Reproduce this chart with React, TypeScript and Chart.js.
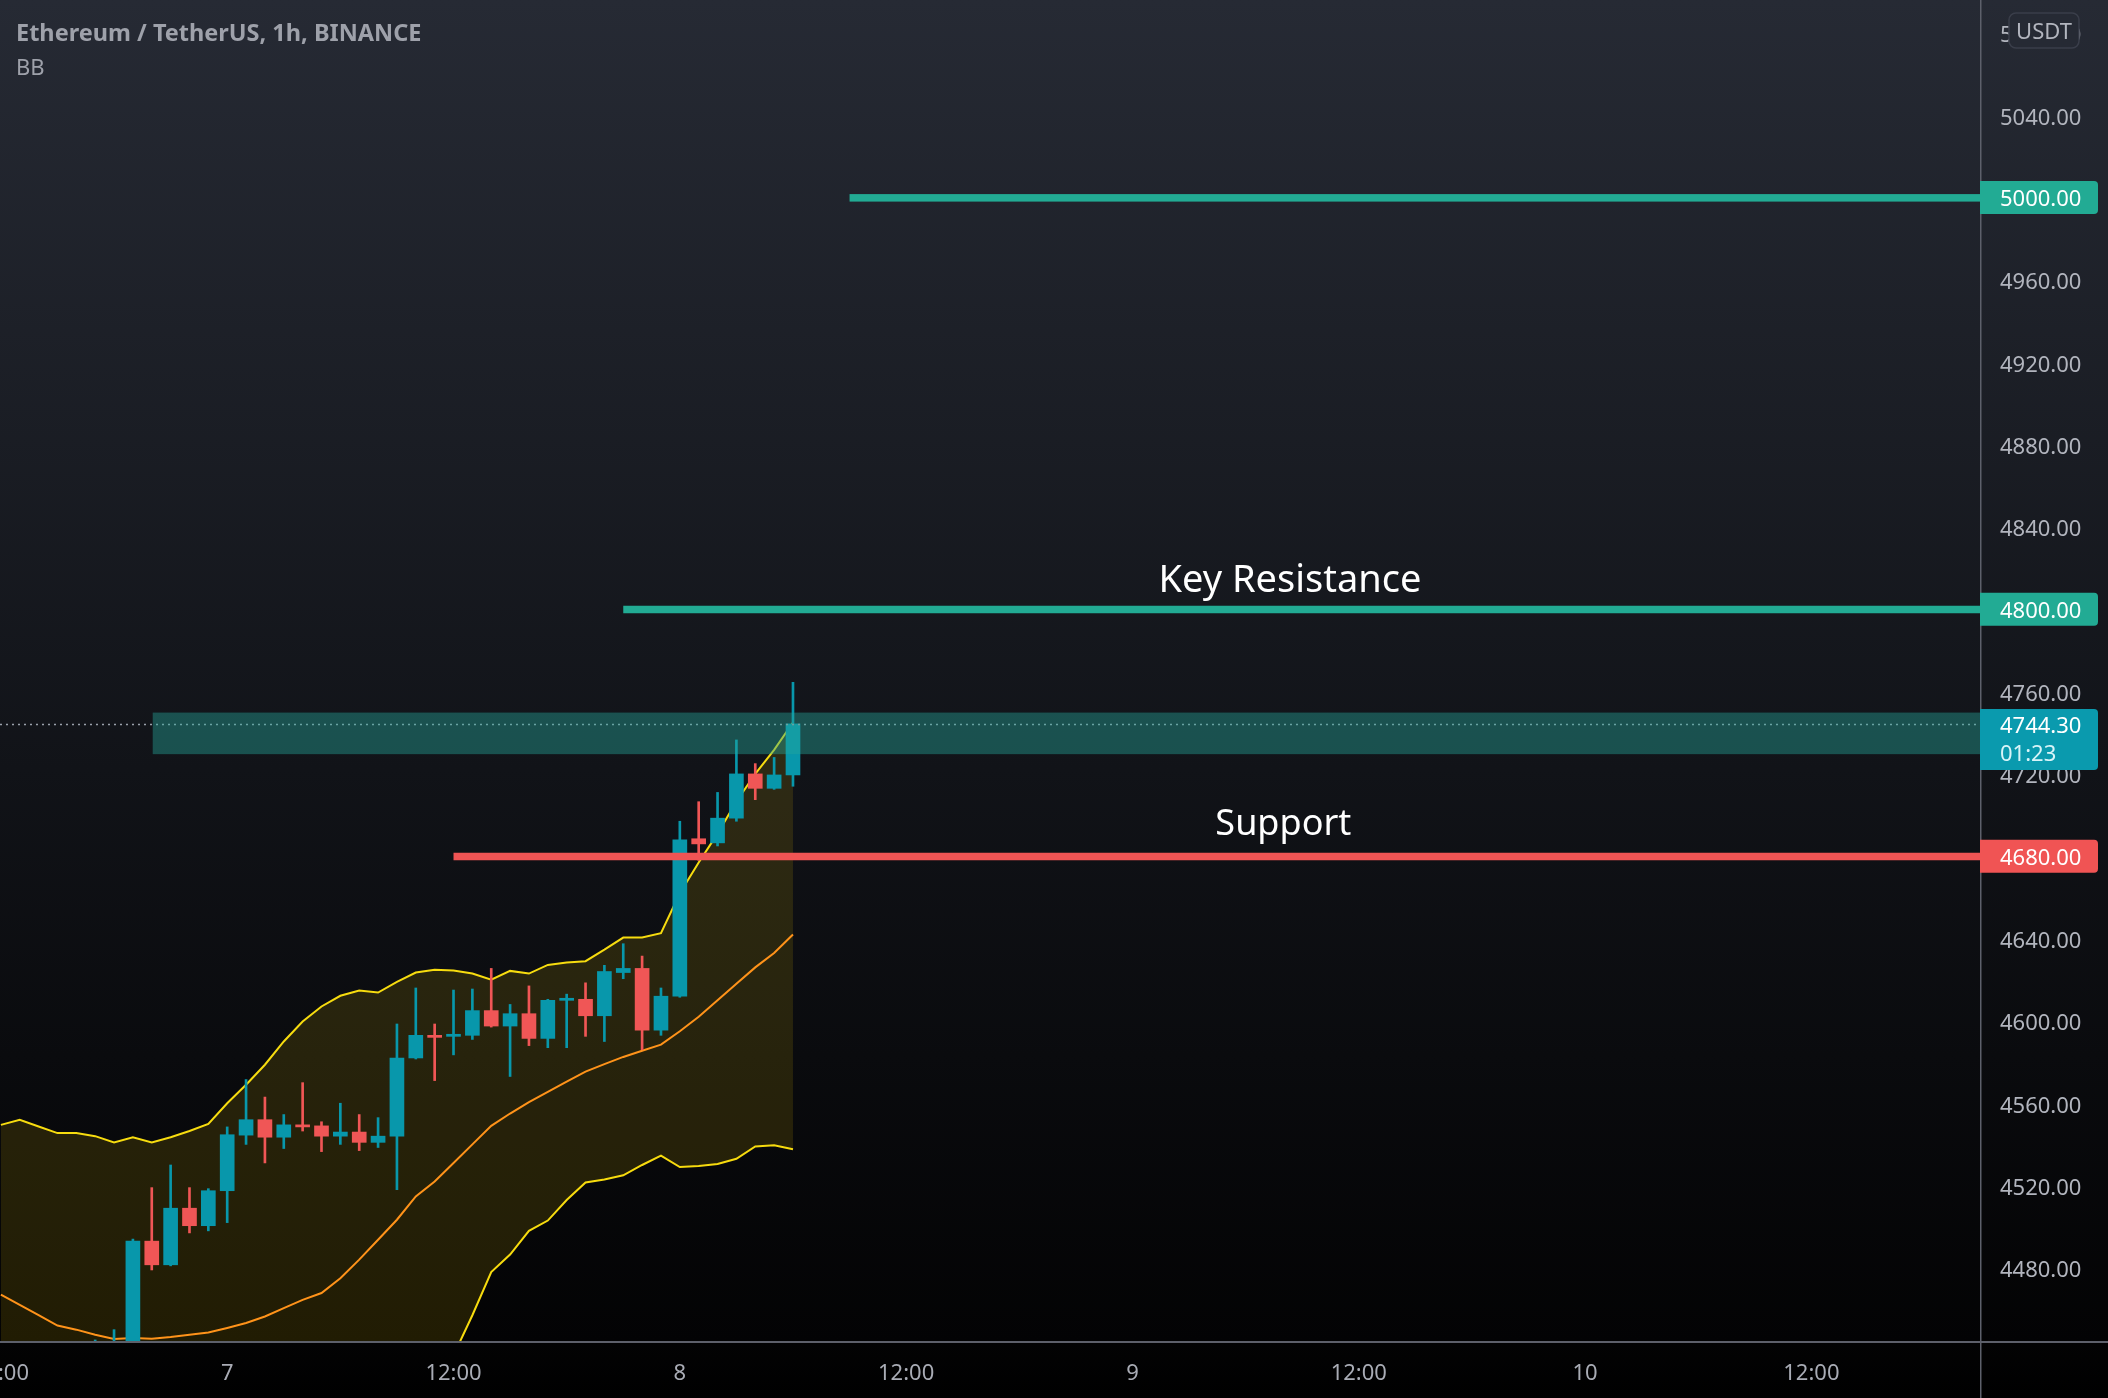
import React, { useEffect, useRef } from 'react';
import { Chart, registerables } from 'chart.js';

Chart.register(...registerables);

// hours relative to 7th 00:00 (1h candles, 6th 12:00 -> 8th 06:00)
const hours = [-12, -11, -10, -9, -8, -7, -6, -5, -4, -3, -2, -1, 0, 1, 2, 3, 4, 5, 6, 7, 8, 9, 10, 11, 12, 13, 14, 15, 16, 17, 18, 19, 20, 21, 22, 23, 24, 25, 26, 27, 28, 29, 30];
const opens = [4432, 4425, 4418, 4412, 4420, 4416, 4430, 4436, 4493, 4481.5, 4509, 4500.5, 4517.5, 4544.5, 4552, 4543.5, 4549.5, 4549, 4544, 4546, 4541, 4544, 4582, 4593, 4592.5, 4593, 4605, 4597.5, 4603.5, 4591.5, 4610, 4610.5, 4602.5, 4623.5, 4625.5, 4595.5, 4612, 4688.5, 4686.5, 4698.5, 4720, 4713, 4719.5];
const highs = [4440, 4436, 4428, 4430, 4432, 4445, 4450, 4494, 4519, 4530, 4519, 4518.5, 4548.5, 4571.5, 4563, 4554.5, 4570, 4551, 4560, 4554.5, 4553, 4598.5, 4616, 4598.5, 4615, 4615.5, 4625.5, 4608, 4617, 4610.5, 4613, 4618.5, 4627, 4637.5, 4631.5, 4616, 4697, 4706.5, 4711, 4736.5, 4725, 4728, 4764.5];
const lows = [4418, 4410, 4402, 4405, 4408, 4412, 4425, 4430, 4479, 4481, 4497, 4498, 4502, 4540, 4531, 4538, 4546.5, 4536.5, 4540, 4537, 4538.5, 4518, 4581.5, 4571, 4583.5, 4591, 4597, 4573, 4588, 4587, 4587, 4592.5, 4590, 4620.5, 4586, 4593, 4611.5, 4678, 4685, 4697, 4707.5, 4712.5, 4714];
const closes = [4425, 4418, 4412, 4420, 4416, 4430, 4436, 4493, 4481.5, 4509, 4500.5, 4517.5, 4544.7, 4552, 4543.5, 4549.5, 4548.5, 4544, 4546, 4541, 4544, 4582, 4593, 4592, 4593.5, 4605, 4597.5, 4603.5, 4591.5, 4610, 4611, 4602.5, 4624, 4625.5, 4595.5, 4612, 4688, 4686, 4698.5, 4720, 4713, 4719.5, 4744.3];

const bbUpper = [4549.5, 4552, 4548.7, 4545.5, 4545.5, 4544, 4541, 4543.5, 4541, 4543.5, 4546.5, 4550, 4560, 4569, 4578.7, 4590, 4599.7, 4607, 4612.2, 4614.8, 4613.8, 4619, 4623.5, 4624.8, 4624.5, 4623, 4620, 4624.3, 4623, 4627.2, 4628.4, 4629, 4634.6, 4640.5, 4640.5, 4642.6, 4662, 4677, 4691, 4706.6, 4720, 4731.7, 4745];
const bbBasis = [4467, 4462, 4457, 4452, 4450, 4447.5, 4445.5, 4446, 4445.6, 4446.4, 4447.5, 4448.6, 4450.8, 4453.2, 4456.4, 4460.5, 4464.5, 4467.8, 4475, 4484, 4493.7, 4503.4, 4514.7, 4522, 4531, 4540, 4549, 4555, 4560.5, 4565.5, 4570.5, 4575.4, 4579, 4582.5, 4585.5, 4588.5, 4595, 4602, 4610, 4618, 4626, 4633, 4642];
const bbLower = [4385, 4372, 4365, 4358, 4355, 4351, 4350, 4348.5, 4350, 4349.5, 4348.7, 4347, 4341.6, 4337, 4334, 4331, 4329, 4328.6, 4338, 4353, 4373.6, 4387.8, 4406, 4421, 4437.5, 4457, 4478, 4486.5, 4498, 4503, 4513, 4521.5, 4523, 4525, 4530, 4534.5, 4529, 4529.5, 4530.5, 4533, 4539, 4539.6, 4537.6];

const priceTicks = [4480, 4520, 4560, 4600, 4640, 4680, 4720, 4760, 4800, 4840, 4880, 4920, 4960, 5000, 5040, 5080];
const timeTicks = [-12, 0, 12, 24, 36, 48, 60, 72, 84];
const timeTickLabels = ['12:00', '7', '12:00', '8', '12:00', '9', '12:00', '10', '12:00'];

const levelPrices = [5000, 4800, 4680];
const levelStartHours = [33, 21, 12];
const levelKinds = ['res', 'res', 'sup'];

const zoneRange = [4729.6, 4749.8];
const zoneStartHour = -3.95;
const lastPrice = 4744.3;
const countdown = '01:23';

const noteTexts = ['Key Resistance', 'Support'];
const noteHours = [56.35, 56.0];
const notePrices = [4808.5, 4690.5];

const TEAL_LEVEL = '#22ab94';
const RED_LEVEL = '#f05454';
const UP = '#0897ab';
const DOWN = '#f05656';
const FONT = '"Noto Sans", "Liberation Sans", sans-serif';

export default function App() {
  const ref = useRef<HTMLCanvasElement | null>(null);

  useEffect(() => {
    const canvas = ref.current;
    if (!canvas) return;
    const candleColors = closes.map((c, i) => (c >= opens[i] ? UP : DOWN));

    const bgPlugin = {
      id: 'bg',
      beforeDraw(chart: any) {
        const { ctx, width, height } = chart;
        ctx.save();
        const g = ctx.createLinearGradient(0, 0, 0, height);
        g.addColorStop(0, '#262a34');
        g.addColorStop(0.55, '#111318');
        g.addColorStop(0.96, '#030304');
        g.addColorStop(1, '#000000');
        ctx.fillStyle = g;
        ctx.fillRect(0, 0, width, height);
        ctx.restore();
      },
    };

    const overlayPlugin = {
      id: 'overlay',
      afterDatasetsDraw(chart: any) {
        const { ctx, chartArea, scales } = chart;
        const xs = scales.x;
        const ys = scales.y;
        ctx.save();
        ctx.beginPath();
        ctx.rect(chartArea.left, chartArea.top, chartArea.right - chartArea.left, chartArea.bottom - chartArea.top);
        ctx.clip();
        // last price dotted line
        const yl = Math.round(ys.getPixelForValue(lastPrice)) + 0.5;
        ctx.strokeStyle = '#9aa0aa';
        ctx.lineWidth = 1.5;
        ctx.setLineDash([2, 4]);
        ctx.beginPath();
        ctx.moveTo(chartArea.left, yl);
        ctx.lineTo(chartArea.right, yl);
        ctx.stroke();
        ctx.setLineDash([]);
        // zone
        const zx = xs.getPixelForValue(zoneStartHour);
        const zt = ys.getPixelForValue(zoneRange[1]);
        const zb = ys.getPixelForValue(zoneRange[0]);
        ctx.fillStyle = 'rgba(38,166,154,0.42)';
        ctx.fillRect(zx, zt, chartArea.right - zx, zb - zt);
        // levels
        levelPrices.forEach((p, i) => {
          const x0 = xs.getPixelForValue(levelStartHours[i]);
          const y = ys.getPixelForValue(p);
          ctx.fillStyle = levelKinds[i] === 'sup' ? RED_LEVEL : TEAL_LEVEL;
          ctx.fillRect(x0, y - 3.5, chartArea.right - x0, 7.5);
        });
        // notes
        ctx.fillStyle = '#ffffff';
        ctx.textAlign = 'center';
        ctx.textBaseline = 'alphabetic';
        noteTexts.forEach((t, i) => {
          ctx.font = `${i === 0 ? 38 : 36}px ${FONT}`;
          ctx.fillText(t, xs.getPixelForValue(noteHours[i]), ys.getPixelForValue(notePrices[i]));
        });
        ctx.restore();
      },
    };

    const roundRight = (ctx: any, x: number, y: number, w: number, h: number, r: number) => {
      ctx.beginPath();
      ctx.moveTo(x, y);
      ctx.lineTo(x + w - r, y);
      ctx.quadraticCurveTo(x + w, y, x + w, y + r);
      ctx.lineTo(x + w, y + h - r);
      ctx.quadraticCurveTo(x + w, y + h, x + w - r, y + h);
      ctx.lineTo(x, y + h);
      ctx.closePath();
    };

    const framePlugin = {
      id: 'frame',
      afterDraw(chart: any) {
        const { ctx, chartArea, scales, width, height } = chart;
        const ys = scales.y;
        ctx.save();
        // axis separators
        ctx.fillStyle = '#5d606b';
        ctx.fillRect(chartArea.right, 0, 1.5, height);
        ctx.fillRect(0, chartArea.bottom - 1, width, 2);
        // price boxes
        const bx = chartArea.right;
        const bw = 118;
        ctx.font = `22px ${FONT}`;
        ctx.textAlign = 'left';
        ctx.textBaseline = 'middle';
        levelPrices.forEach((p, i) => {
          const y = ys.getPixelForValue(p);
          ctx.fillStyle = levelKinds[i] === 'sup' ? RED_LEVEL : TEAL_LEVEL;
          roundRight(ctx, bx, y - 16.5, bw, 33, 4);
          ctx.fill();
          ctx.fillStyle = '#ffffff';
          ctx.fillText(p.toFixed(2), bx + 20, y + 2);
        });
        const yl = ys.getPixelForValue(lastPrice);
        ctx.fillStyle = '#0a9aae';
        roundRight(ctx, bx, yl - 15, bw, 61, 4);
        ctx.fill();
        ctx.fillStyle = '#ffffff';
        ctx.fillText(lastPrice.toFixed(2), bx + 20, yl + 3);
        ctx.fillStyle = '#d8f4f8';
        ctx.fillText(countdown, bx + 20, yl + 31);
        // USDT badge
        const ux = 2009, uy = 13, uw = 70, uh = 35;
        ctx.fillStyle = '#262a34';
        ctx.strokeStyle = '#3a3e4a';
        ctx.lineWidth = 1.5;
        ctx.beginPath();
        (ctx as any).roundRect(ux, uy, uw, uh, 7);
        ctx.fill();
        ctx.stroke();
        ctx.fillStyle = '#b2b5be';
        ctx.textAlign = 'center';
        ctx.fillText('USDT', ux + uw / 2, uy + uh / 2 + 2);
        // title
        ctx.textAlign = 'left';
        ctx.fillStyle = '#9ea1aa';
        ctx.font = `bold 23.5px ${FONT}`;
        ctx.fillText('Ethereum / TetherUS, 1h, BINANCE', 16, 34);
        ctx.font = `22px ${FONT}`;
        ctx.fillText('BB', 16, 69);
        ctx.restore();
      },
    };

    const chart = new Chart(canvas, {
      type: 'bar',
      data: {
        datasets: [
          {
            type: 'line',
            label: 'upper',
            data: hours.map((h, i) => ({ x: h, y: bbUpper[i] })),
            borderColor: '#f7dc0f',
            borderWidth: 2,
            pointRadius: 0,
            fill: 2,
            backgroundColor: 'rgba(255,214,0,0.12)',
            order: 3,
          } as any,
          {
            type: 'line',
            label: 'basis',
            data: hours.map((h, i) => ({ x: h, y: bbBasis[i] })),
            borderColor: '#ff8a1e',
            borderWidth: 2,
            pointRadius: 0,
            fill: false,
            order: 3,
          } as any,
          {
            type: 'line',
            label: 'lower',
            data: hours.map((h, i) => ({ x: h, y: bbLower[i] })),
            borderColor: '#f7dc0f',
            borderWidth: 2,
            pointRadius: 0,
            fill: false,
            order: 3,
          } as any,
          {
            type: 'bar',
            label: 'wick',
            data: hours.map((h, i) => ({ x: h, y: [lows[i], highs[i]] })),
            backgroundColor: candleColors,
            barThickness: 2,
            grouped: false,
            order: 2,
          } as any,
          {
            type: 'bar',
            label: 'body',
            data: hours.map((h, i) => ({ x: h, y: [opens[i], closes[i]] })),
            backgroundColor: candleColors,
            barThickness: 14,
            minBarLength: 2,
            grouped: false,
            order: 1,
          } as any,
        ],
      },
      options: {
        responsive: false,
        animation: false,
        devicePixelRatio: 1,
        layout: { padding: 0 },
        plugins: { legend: { display: false }, tooltip: { enabled: false } },
        scales: {
          x: {
            type: 'linear',
            min: -12.047,
            max: 92.94,
            offset: false,
            grid: { display: false, drawTicks: false },
            border: { display: false },
            afterBuildTicks: (s: any) => {
              s.ticks = timeTicks.map((v) => ({ value: v }));
            },
            afterFit: (s: any) => {
              s.height = 56;
              s.paddingLeft = 0;
              s.paddingRight = 0;
            },
            ticks: {
              autoSkip: false,
              maxRotation: 0,
              minRotation: 0,
              padding: 19,
              color: '#a9acb5',
              font: { family: FONT, size: 22 },
              callback: (_v: any, i: number) => timeTickLabels[i],
            },
          },
          y: {
            type: 'linear',
            position: 'right',
            min: 4444,
            max: 5096,
            grid: { display: false, drawTicks: false },
            border: { display: false },
            afterBuildTicks: (s: any) => {
              s.ticks = priceTicks.map((v) => ({ value: v }));
            },
            afterFit: (s: any) => {
              s.width = 128;
              s.paddingTop = 0;
              s.paddingBottom = 0;
            },
            ticks: {
              padding: 20,
              labelOffset: 3,
              color: '#b2b5be',
              font: { family: FONT, size: 22 },
              callback: (v: any) => Number(v).toFixed(2),
            },
          },
        },
      },
      plugins: [bgPlugin, overlayPlugin, framePlugin],
    } as any);

    return () => chart.destroy();
  }, []);

  return (
    <div style={{ position: 'fixed', left: 0, top: 0, width: 2108, height: 1398, overflow: 'hidden' }}>
      <canvas ref={ref} width={2108} height={1398} style={{ display: 'block', width: 2108, height: 1398 }} />
    </div>
  );
}
